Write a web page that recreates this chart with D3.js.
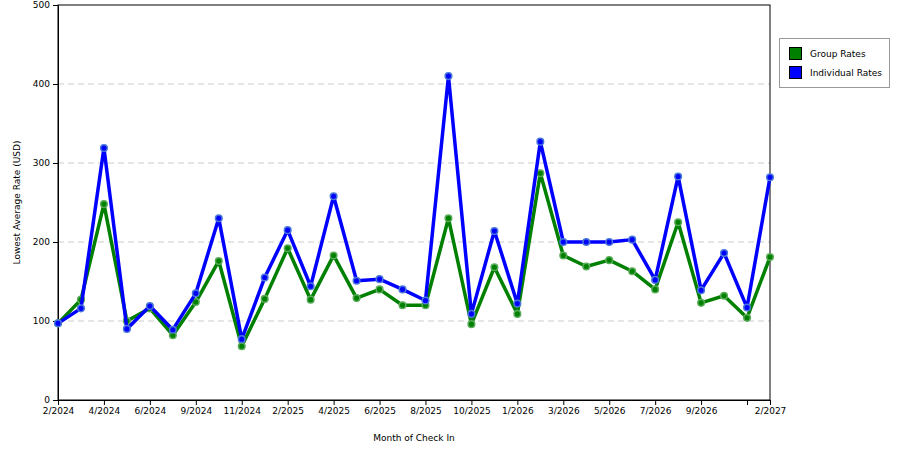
<!DOCTYPE html>
<html>
<head>
<meta charset="utf-8">
<script src="https://cdn.jsdelivr.net/npm/d3@7"></script>
<style>
  body { margin: 0; background: #fff; }
  text { font-family: "DejaVu Sans", sans-serif; font-size: 9px; fill: #000; }
  .grid line { stroke: #ccc; stroke-dasharray: 6,4; }
  .axis path, .axis line { stroke: #000; }
</style>
</head>
<body>
<div id="chart"></div>
<script>
// 32 months, every other one labelled
var tickLabels = ['2/2024', '4/2024', '6/2024', '9/2024', '11/2024', '2/2025', '4/2025', '6/2025',
  '8/2025', '10/2025', '1/2026', '3/2026', '5/2026', '7/2026', '9/2026', '', '2/2027'];
var groupRates = [97, 127, 248, 100, 116, 82, 124, 176, 68, 128, 192, 127, 183, 129, 140, 120,
  120, 230, 96, 168, 109, 287, 183, 169, 177, 163, 140, 225, 123, 132, 104, 181];
var individualRates = [97, 116, 319, 90, 119, 89, 135, 230, 77, 155, 215, 144, 258, 151, 153, 140,
  126, 410, 109, 214, 122, 327, 200, 200, 200, 203, 152, 283, 139, 186, 117, 282];
var seriesNames = ['Group Rates', 'Individual Rates'];
var colors = ['#008000', '#0000ff'];
var rings = ['#5aab5a', '#4a78d8'];

var mLeft = 58, mRight = 770, mTop = 5, mBottom = 400;
var idx = d3.range(groupRates.length);

var x = d3.scalePoint().domain(idx).range([mLeft, mRight]);
var y = d3.scaleLinear().domain([0, 500]).range([mBottom, mTop]);

var svg = d3.select('#chart').append('svg')
  .attr('width', 900).attr('height', 450);

svg.append('g').attr('class', 'grid')
  .selectAll('line').data([100, 200, 300, 400]).enter().append('line')
  .attr('x1', mLeft).attr('x2', mRight)
  .attr('y1', function (d) { return y(d); }).attr('y2', function (d) { return y(d); });

svg.append('rect').attr('x', mLeft).attr('y', mTop)
  .attr('width', mRight - mLeft).attr('height', mBottom - mTop)
  .attr('fill', 'none').attr('stroke', '#000');

var tickIdx = idx.filter(function (i) { return i % 2 === 0; }).concat([idx.length - 1]);
var xAxis = d3.axisBottom(x).tickValues(tickIdx).tickSize(5).tickSizeOuter(0)
  .tickFormat(function (d) {
    return d === idx.length - 1 ? tickLabels[tickLabels.length - 1] : tickLabels[d / 2];
  });
svg.append('g').attr('class', 'axis')
  .attr('transform', 'translate(0,' + mBottom + ')').call(xAxis);

var yAxis = d3.axisLeft(y).tickValues([0, 100, 200, 300, 400, 500]).tickSize(5).tickSizeOuter(0);
svg.append('g').attr('class', 'axis')
  .attr('transform', 'translate(' + mLeft + ',0)').call(yAxis);

svg.append('text').attr('x', (mLeft + mRight) / 2).attr('y', 441)
  .attr('text-anchor', 'middle').text('Month of Check In');
svg.append('text').attr('transform', 'translate(20,' + (mTop + mBottom) / 2 + ') rotate(-90)')
  .attr('text-anchor', 'middle').text('Lowest Average Rate (USD)');

var line = d3.line()
  .x(function (d, i) { return x(i); })
  .y(function (d) { return y(d); });

[groupRates, individualRates].forEach(function (data, s) {
  svg.append('path').datum(data)
    .attr('d', line).attr('fill', 'none')
    .attr('stroke', colors[s]).attr('stroke-width', 3.5)
    .attr('stroke-linejoin', 'round');
  svg.append('g').selectAll('circle').data(data).enter().append('circle')
    .attr('cx', function (d, i) { return x(i); })
    .attr('cy', function (d) { return y(d); })
    .attr('r', 3.3)
    .attr('fill', colors[s]).attr('stroke', rings[s]).attr('stroke-width', 1.5);
});

var legend = svg.append('g');
legend.append('rect').attr('x', 779.5).attr('y', 38.5).attr('width', 110).attr('height', 49)
  .attr('fill', '#fff').attr('stroke', '#999');
seriesNames.forEach(function (name, i) {
  legend.append('rect').attr('x', 789.5).attr('y', 47.5 + i * 19)
    .attr('width', 12).attr('height', 12)
    .attr('fill', colors[i]).attr('stroke', '#000');
  legend.append('text').attr('x', 810).attr('y', 57 + i * 19).text(name);
});
</script>
</body>
</html>
